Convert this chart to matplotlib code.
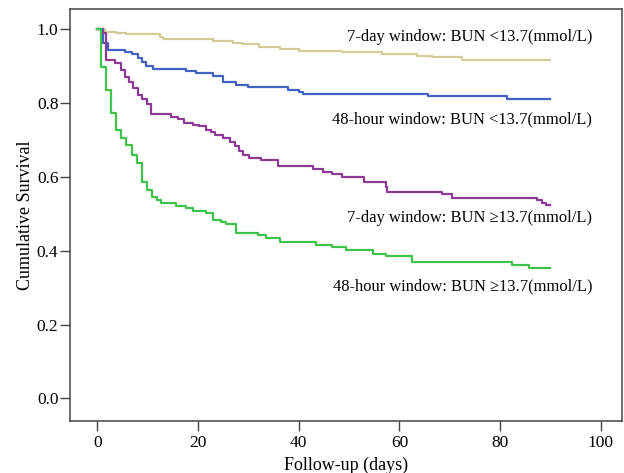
import matplotlib
matplotlib.use("Agg")
import matplotlib.pyplot as plt

plt.rcParams['font.family'] = ['Liberation Serif', 'DejaVu Serif']

# Kaplan-Meier step data (days, cumulative survival)
tan_t = [0, 1.5, 3.8, 5.8, 12.4, 13.0, 23.0, 26.9, 28.8, 32.2, 36.2, 40.1, 48.7,
         56.6, 63.5, 66.5, 72.4, 90]
tan_s = [1.0, 0.993, 0.988, 0.985, 0.978, 0.972, 0.967, 0.963, 0.958, 0.952, 0.947,
         0.941, 0.937, 0.933, 0.928, 0.923, 0.916, 0.916]

blue_t = [0, 1.2, 2.1, 5.5, 6.8, 8.1, 8.8, 9.7, 11.1, 17.7, 19.7, 23.0, 24.9, 27.6,
          29.9, 37.8, 40.1, 40.8, 65.6, 81.4, 90]
blue_s = [1.0, 0.963, 0.943, 0.937, 0.931, 0.921, 0.911, 0.901, 0.891, 0.886, 0.880,
          0.873, 0.857, 0.848, 0.842, 0.835, 0.830, 0.824, 0.819, 0.811, 0.811]

purple_t = [0, 0.9, 1.8, 3.5, 4.8, 5.5, 6.4, 7.1, 8.1, 8.8, 9.8, 10.7, 14.7, 16.0,
            17.3, 19.0, 20.3, 21.6, 22.6, 23.3, 24.9, 26.3, 27.3, 28.2, 29.0, 30.2,
            32.5, 35.8, 42.8, 44.8, 46.7, 48.7, 53.0, 57.3, 57.6, 68.5, 70.5, 87.4,
            88.4, 89.2, 90]
purple_s = [1.0, 0.99, 0.916, 0.907, 0.889, 0.869, 0.857, 0.839, 0.821, 0.811, 0.797,
            0.770, 0.763, 0.756, 0.746, 0.740, 0.736, 0.727, 0.722, 0.713, 0.704,
            0.695, 0.684, 0.670, 0.659, 0.652, 0.645, 0.629, 0.621, 0.614, 0.608,
            0.600, 0.587, 0.573, 0.560, 0.553, 0.542, 0.537, 0.530, 0.524, 0.524]

green_t = [0, 0.8, 1.8, 2.8, 3.8, 4.8, 5.8, 6.8, 7.9, 8.9, 9.9, 10.9, 11.9, 12.7,
           15.7, 17.7, 19.0, 21.6, 23.0, 24.6, 25.6, 27.6, 31.9, 33.5, 36.2, 43.4,
           46.7, 49.4, 54.7, 57.3, 62.6, 82.4, 85.7, 90]
green_s = [1.0, 0.898, 0.835, 0.772, 0.727, 0.704, 0.686, 0.659, 0.636, 0.587, 0.564,
           0.546, 0.537, 0.530, 0.521, 0.515, 0.507, 0.501, 0.483, 0.478, 0.472,
           0.447, 0.441, 0.434, 0.424, 0.415, 0.409, 0.402, 0.391, 0.385, 0.370,
           0.361, 0.354, 0.354]

labels = ["7-day window: BUN <13.7(mmol/L)",
          "48-hour window: BUN <13.7(mmol/L)",
          "7-day window: BUN \u226513.7(mmol/L)",
          "48-hour window: BUN \u226513.7(mmol/L)"]
label_y = [0.977, 0.755, 0.488, 0.302]

x_ticks = [0, 20, 40, 60, 80, 100]
y_ticks = [0.0, 0.2, 0.4, 0.6, 0.8, 1.0]

fig = plt.figure(figsize=(6.24, 4.73), dpi=100)
ax = fig.add_axes([0.1115, 0.11, 0.886, 0.871])

curves = [(tan_t, tan_s, "#d3cc97"), (blue_t, blue_s, "#4262c2"),
          (purple_t, purple_s, "#8d3a97"), (green_t, green_s, "#3ec24b")]
for t, s, c in curves:
    ax.step(t, s, where="post", color=c, lw=1.6)

for txt, y in zip(labels, label_y):
    ax.text(98.3, y, txt, ha="right", va="center", fontsize=11.9)

ax.set_xlim(-5.5, 104.3)
ax.set_ylim(-0.061, 1.054)
ax.set_xticks(x_ticks)
ax.set_yticks(y_ticks)
ax.set_yticklabels([f"{v:.1f}" for v in y_ticks])
ax.tick_params(direction="out", length=7.5, width=1, color="#444444", labelsize=12.5)
ax.tick_params(axis="y", pad=0.5)
ax.tick_params(axis="x", pad=2.5)
for sp in ax.spines.values():
    sp.set_color("#444444")
    sp.set_linewidth(1.1)

ax.set_xlabel("Follow-up (days)", fontsize=13)
ax.set_ylabel("Cumulative Survival", fontsize=13, labelpad=2)

fig.savefig("out.png", dpi=100)
